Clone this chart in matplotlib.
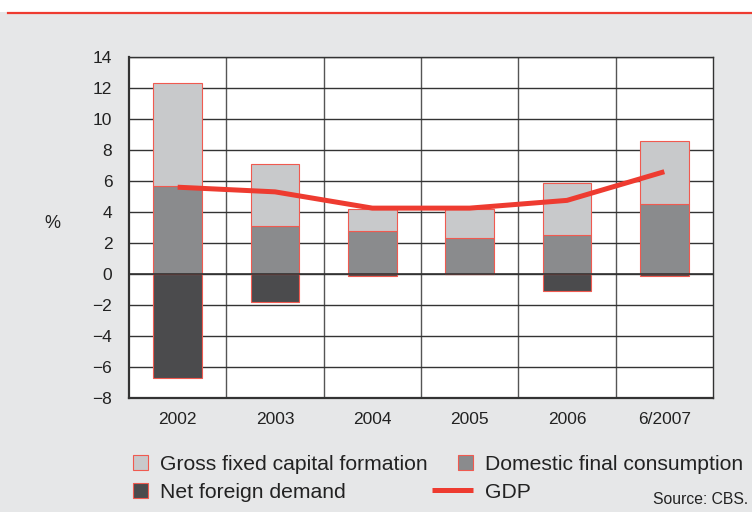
import matplotlib
matplotlib.use("Agg")
import matplotlib.pyplot as plt
from matplotlib.patches import Rectangle
from matplotlib.lines import Line2D
from matplotlib.container import BarContainer
from matplotlib.legend_handler import HandlerPatch
import numpy as np

years = ["2002", "2003", "2004", "2005", "2006", "6/2007"]
consumption = [5.7, 3.1, 2.8, 2.3, 2.5, 4.5]      # domestic final consumption
capital = [6.6, 4.0, 1.4, 1.9, 3.4, 4.1]          # gross fixed capital formation
foreign = [-6.7, -1.8, -0.1, 0.0, -1.1, -0.1]     # net foreign demand
gdp = [5.6, 5.3, 4.25, 4.25, 4.75, 6.6]

RED = "#ee3b30"
BG = "#e6e7e8"
C_LIGHT, C_MID, C_DARK = "#c8c9cb", "#8a8b8d", "#4b4b4d"

plt.rcParams["font.family"] = ["Liberation Sans", "DejaVu Sans"]

W, H = 752, 512
fig = plt.figure(figsize=(W / 100, H / 100), dpi=100, facecolor=BG)
# white strip + red rule at the top
fig.patches.append(Rectangle((0, 1 - 12 / H), 1, 12 / H, transform=fig.transFigure,
                             facecolor="white", edgecolor="none", zorder=0))
fig.add_artist(Line2D([8 / W, 1], [1 - 12.5 / H] * 2, transform=fig.transFigure,
                      color=RED, lw=1.6))

ax = fig.add_axes([129 / W, (H - 398) / H, (713 - 129) / W, (398 - 57) / H])
ax.set_facecolor("white")

x = np.arange(len(years))
cons = np.array(consumption)
kw = dict(width=0.5, edgecolor="#f05a50", linewidth=0.8, zorder=2)
b_cons = ax.bar(x, cons, color=C_MID, **kw)
b_cap = ax.bar(x, capital, bottom=cons, color=C_LIGHT, **kw)
b_for = ax.bar(x, foreign, color=C_DARK, **kw)
l_gdp, = ax.plot(x, gdp, color=RED, lw=3.6, zorder=4, solid_capstyle="butt")
ax.axhline(0, color="#333333", lw=1.2, zorder=3)

ax.set_xlim(-0.5, len(years) - 0.5)
ax.set_ylim(-8, 14)
ax.set_yticks(range(-8, 15, 2))
ax.set_yticklabels([str(v).replace("-", "\u2212") for v in range(-8, 15, 2)])
ax.set_xticks(x)
ax.set_xticklabels(years)
ax.set_xticks(np.arange(0.5, len(years) - 0.5), minor=True)
ax.grid(axis="y", which="major", color="#333333", lw=1.0, zorder=1)
ax.grid(axis="x", which="minor", color="#555555", lw=1.0, zorder=1)
ax.set_axisbelow(True)
ax.tick_params(which="both", length=0, labelsize=12.5, colors="#222222")
ax.tick_params(axis="y", pad=12)
ax.tick_params(axis="x", pad=10)
for side in ["left", "bottom"]:
    ax.spines[side].set_linewidth(1.6)
    ax.spines[side].set_color("#333333")
for side in ["top", "right"]:
    ax.spines[side].set_linewidth(1.0)
    ax.spines[side].set_color("#333333")

fig.text(52 / W, 1 - 224 / H, "%", fontsize=13, ha="center", va="center", color="#222222")


def square(legend, orig_handle, xdescent, ydescent, width, height, fontsize):
    s = height
    return Rectangle((width - s - xdescent, -ydescent), s, s)


def from_bar(legend_handle, orig_handle):
    legend_handle.update_from(orig_handle.patches[0])


# column-wise fill: col1 = capital, foreign; col2 = consumption, GDP
handles = [b_cap, b_for, b_cons, l_gdp]
labels = ["Gross fixed capital formation", "Net foreign demand",
          "Domestic final consumption", "GDP"]
leg = fig.legend(handles, labels, ncol=2,
                 loc="upper left", bbox_to_anchor=(107 / W, 1 - 455 / H),
                 frameon=False, fontsize=15.2, handlelength=1.93, handletextpad=0.58,
                 columnspacing=0.2, labelspacing=0.42, borderaxespad=0, borderpad=0,
                 handler_map={BarContainer: HandlerPatch(patch_func=square,
                                                         update_func=from_bar)})
for t in leg.get_texts():
    t.set_color("#222222")

fig.text(748 / W, 1 - 500 / H, "Source: CBS.", fontsize=11.3, ha="right", va="center",
         color="#222222")

fig.savefig("out.png", dpi=100, facecolor=BG)
